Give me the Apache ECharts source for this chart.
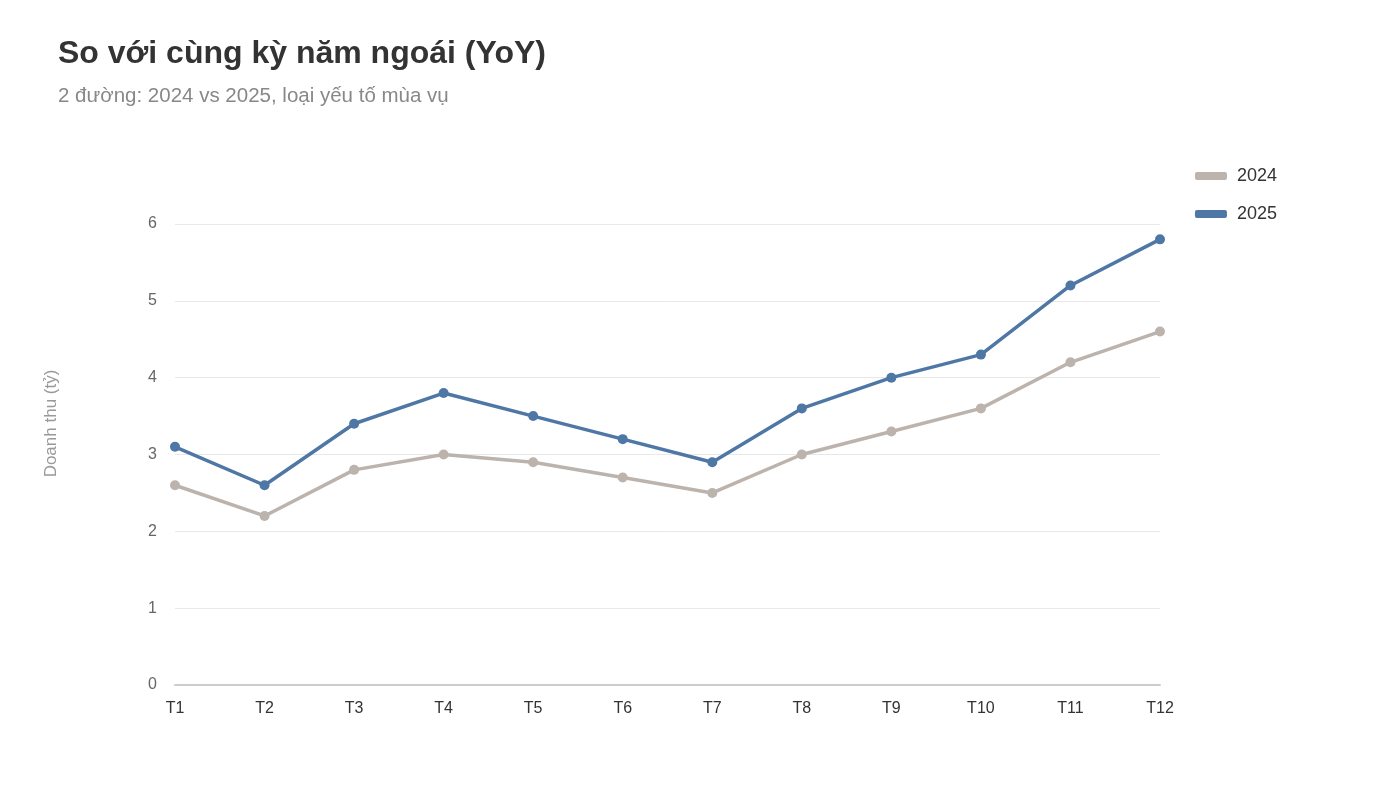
<!DOCTYPE html>
<html><head><meta charset="utf-8">
<script src="https://cdn.jsdelivr.net/npm/echarts@6/dist/echarts.min.js"></script>
<style>html,body{margin:0;padding:0;background:#fff}#c{width:1400px;height:787px}</style>
</head><body><div id="c"></div>
<script>
const categories = ['T1','T2','T3','T4','T5','T6','T7','T8','T9','T10','T11','T12'];
const series2024 = [2.6, 2.2, 2.8, 3.0, 2.9, 2.7, 2.5, 3.0, 3.3, 3.6, 4.2, 4.6];
const series2025 = [3.1, 2.6, 3.4, 3.8, 3.5, 3.2, 2.9, 3.6, 4.0, 4.3, 5.2, 5.8];
const seriesNames = ['2024', '2025'];
const FONT = '"Liberation Sans", Arial, sans-serif';
const chart = echarts.init(document.getElementById('c'));
chart.setOption({
  animation: false,
  textStyle: {fontFamily: FONT},
  title: {
    text: 'So với cùng kỳ năm ngoái (YoY)',
    subtext: '2 đường: 2024 vs 2025, loại yếu tố mùa vụ',
    left: 53, top: 33,
    textStyle: {fontSize: 32, fontWeight: 'bold', color: '#333', fontFamily: FONT},
    subtextStyle: {fontSize: 20.5, color: '#888', fontFamily: FONT},
    itemGap: 16
  },
  legend: {
    orient: 'vertical', right: 118, top: 162,
    itemWidth: 32, itemHeight: 8, itemGap: 20,
    icon: 'roundRect',
    textStyle: {fontSize: 18, color: '#333', fontFamily: FONT, padding: [0, 0, 0, 5]},
    data: seriesNames
  },
  grid: {left: 175, right: 240, top: 224, bottom: 102, containLabel: false},
  xAxis: {
    type: 'category', data: categories, boundaryGap: false,
    axisLine: {lineStyle: {color: '#ccc', width: 2}},
    axisTick: {show: false},
    axisLabel: {fontSize: 16, color: '#333', margin: 16}
  },
  yAxis: {
    type: 'value', min: 0, max: 6, interval: 1,
    name: 'Doanh thu (tỷ)', nameLocation: 'middle', nameGap: 115, nameRotate: 90,
    nameTextStyle: {fontSize: 17, color: '#999', padding: [0, 0, 0, 62]},
    axisLine: {show: false}, axisTick: {show: false},
    axisLabel: {fontSize: 16, color: '#666', margin: 18},
    splitLine: {lineStyle: {color: '#e8e8e8', width: 1}}
  },
  series: [
    {name: seriesNames[0], type: 'line', data: series2024, color: '#bcb3ad',
     symbol: 'circle', symbolSize: 10, lineStyle: {width: 3.5}},
    {name: seriesNames[1], type: 'line', data: series2025, color: '#4e77a6',
     symbol: 'circle', symbolSize: 10, lineStyle: {width: 3.5}}
  ]
});
</script></body></html>
